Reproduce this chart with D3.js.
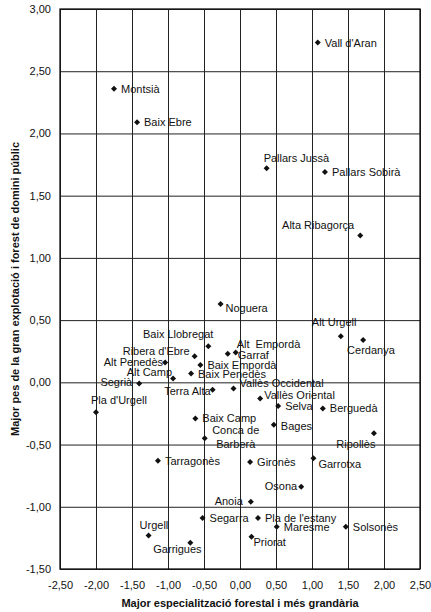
<!DOCTYPE html>
<html>
<head>
<meta charset="utf-8">
<script src="https://cdn.jsdelivr.net/npm/d3@7"></script>
<style>
    body { margin: 0; background: #fff; }
    svg { font-family: "Liberation Sans", Arial, sans-serif; }
    .tick text { font-size: 11px; fill: #111; }
    .lbl { font-size: 11px; fill: #111; white-space: pre; }
    .title { font-size: 11px; font-weight: bold; fill: #111; }
</style>
</head>
<body>
<div id="chart"></div>
<script>
// comarques i coordenades (eix x: especialització forestal, eix y: gran explotació)
var comarques = ['Vall d\'Aran', 'Montsià', 'Baix Ebre', 'Pallars Jussà', 'Pallars Sobirà',
    'Alta Ribagorça', 'Noguera', 'Alt Urgell', 'Cerdanya', 'Alt  Empordà', 'Garraf',
    'Baix Llobregat', 'Ribera d\'Ebre', 'Baix Empordà', 'Baix Penedès', 'Alt Penedès',
    'Alt Camp', 'Segrià', 'Pla d\'Urgell', 'Terra Alta', 'Vallès Occidental', 'Vallès Oriental',
    'Baix Camp', 'Conca de Barberà', 'Selva', 'Berguedà', 'Bages', 'Ripollès', 'Gironès',
    'Garrotxa', 'Tarragonès', 'Osona', 'Anoia', 'Segarra', 'Pla de l\'estany', 'Maresme',
    'Solsonès', 'Priorat', 'Urgell', 'Garrigues'];
var xValues = [1.08, -1.75, -1.43, 0.37, 1.18,
    1.67, -0.27, 1.40, 1.71, -0.06, -0.17,
    -0.44, -0.63, -0.55, -0.68, -1.04,
    -0.93, -1.40, -2.00, -0.38, -0.09, 0.28,
    -0.62, -0.49, 0.53, 1.15, 0.47, 1.86, 0.14,
    1.02, -1.14, 0.85, 0.15, -0.52, 0.25, 0.51,
    1.47, 0.16, -1.27, -0.69];
var yValues = [2.73, 2.36, 2.09, 1.72, 1.69,
    1.18, 0.63, 0.37, 0.34, 0.24, 0.23,
    0.29, 0.21, 0.14, 0.07, 0.16,
    0.03, -0.01, -0.24, -0.06, -0.05, -0.13,
    -0.29, -0.45, -0.19, -0.21, -0.34, -0.41, -0.64,
    -0.61, -0.63, -0.84, -0.96, -1.09, -1.09, -1.16,
    -1.16, -1.24, -1.23, -1.29];
var xTicks = [-2.5, -2, -1.5, -1, -0.5, 0, 0.5, 1, 1.5, 2, 2.5];
var yTicks = [-1.5, -1, -0.5, 0, 0.5, 1, 1.5, 2, 2.5, 3];
var xTitle = 'Major especialització forestal i més grandària';
var yTitle = 'Major pes de la gran explotació i forest de domini públic';

// posició de les etiquetes respecte del punt: [dx, dy, anchor]
var labelPos = {
    'Pallars Jussà': [-3, -6, 'start'],
    'Alta Ribagorça': [-6, -6, 'end'],
    'Noguera': [5, 8, 'start'],
    'Alt Urgell': [-29, -10, 'start'],
    'Cerdanya': [-16, 14, 'start'],
    'Alt  Empordà': [1, -4, 'start'],
    'Garraf': [10, 5, 'start'],
    'Baix Llobregat': [5, -8, 'end'],
    'Ribera d\'Ebre': [-5, -1, 'end'],
    'Alt Penedès': [-2, 3.5, 'end'],
    'Alt Camp': [-1, -2.5, 'end'],
    'Segrià': [-7, 2.5, 'end'],
    'Pla d\'Urgell': [-5, -8.5, 'start'],
    'Terra Alta': [-2, 5, 'end'],
    'Vallès Occidental': [6, -2, 'start'],
    'Vallès Oriental': [4, 0, 'start'],
    'Bages': [7, 5, 'start'],
    'Ripollès': [1.5, 15, 'end'],
    'Garrotxa': [5, 9.5, 'start'],
    'Osona': [-4, 3, 'end'],
    'Anoia': [-8, 3.5, 'end'],
    'Priorat': [2, 9.5, 'start'],
    'Urgell': [-9, -6, 'start'],
    'Garrigues': [-37, 10.5, 'start']
};

var width = 431;
var height = 612;
var margin = { top: 9, right: 11, bottom: 43, left: 60 };
var w = width - margin.left - margin.right;
var h = height - margin.top - margin.bottom;

var locale = d3.formatLocale({ decimal: ',', thousands: '.', grouping: [3], currency: ['', ''], minus: '-' });
var fmt = locale.format('.2f');

var svg = d3.select('#chart')
    .append('svg')
    .attr('width', width)
    .attr('height', height);

var g = svg.append('g')
    .attr('transform', 'translate(' + margin.left + ',' + margin.top + ')');

var xScale = d3.scaleLinear().domain([-2.5, 2.5]).range([0, w]);
var yScale = d3.scaleLinear().domain([-1.5, 3]).range([h, 0]);

// eixos amb quadrícula
var xAxis = d3.axisBottom(xScale).tickValues(xTicks).tickSize(-h).tickPadding(12).tickFormat(fmt);
var yAxis = d3.axisLeft(yScale).tickValues(yTicks).tickSize(-w).tickPadding(9).tickFormat(fmt);

var gx = g.append('g')
    .attr('transform', 'translate(0,' + h + ')')
    .call(xAxis);
var gy = g.append('g')
    .call(yAxis);

[gx, gy].forEach(function (a) {
    a.select('.domain').remove();
    a.selectAll('.tick line').attr('stroke', '#222').attr('stroke-width', 1);
});

g.append('rect')
    .attr('width', w)
    .attr('height', h)
    .attr('fill', 'none')
    .attr('stroke', '#111')
    .attr('stroke-width', 1.3);

// punts
var data = comarques.map(function (c, i) {
    return { name: c, x: xValues[i], y: yValues[i] };
});

var symbol = d3.symbol().type(d3.symbolSquare).size(18);

g.append('g')
    .selectAll('path')
    .data(data)
    .enter()
    .append('path')
    .attr('d', symbol)
    .attr('transform', function (d) {
        return 'translate(' + xScale(d.x) + ',' + yScale(d.y) + ') rotate(45)';
    })
    .attr('fill', '#111');

// etiquetes
var lbl = g.append('g')
    .selectAll('text')
    .data(data)
    .enter()
    .append('text')
    .attr('class', 'lbl')
    .attr('x', function (d) { return xScale(d.x) + (labelPos[d.name] ? labelPos[d.name][0] : 7); })
    .attr('y', function (d) { return yScale(d.y) + (labelPos[d.name] ? labelPos[d.name][1] : 4); })
    .attr('text-anchor', function (d) { return labelPos[d.name] ? labelPos[d.name][2] : 'start'; })
    .text(function (d) { return d.name == 'Conca de Barberà' ? '' : d.name; });

// Conca de Barberà en dues línies
var conca = data.filter(function (d) { return d.name == 'Conca de Barberà'; })[0];
var ct = g.append('text')
    .attr('class', 'lbl')
    .attr('text-anchor', 'middle')
    .attr('x', xScale(conca.x) + 31)
    .attr('y', yScale(conca.y) - 4);
ct.append('tspan').text('Conca de');
ct.append('tspan').attr('x', xScale(conca.x) + 31).attr('dy', 13.5).text('Barberà');

// títols dels eixos
svg.append('text')
    .attr('class', 'title')
    .attr('text-anchor', 'middle')
    .attr('x', margin.left + w / 2)
    .attr('y', 607)
    .text(xTitle);

svg.append('text')
    .attr('class', 'title')
    .attr('text-anchor', 'middle')
    .attr('transform', 'translate(19,' + (margin.top + h / 2) + ') rotate(-90)')
    .text(yTitle);
</script>
</body>
</html>
